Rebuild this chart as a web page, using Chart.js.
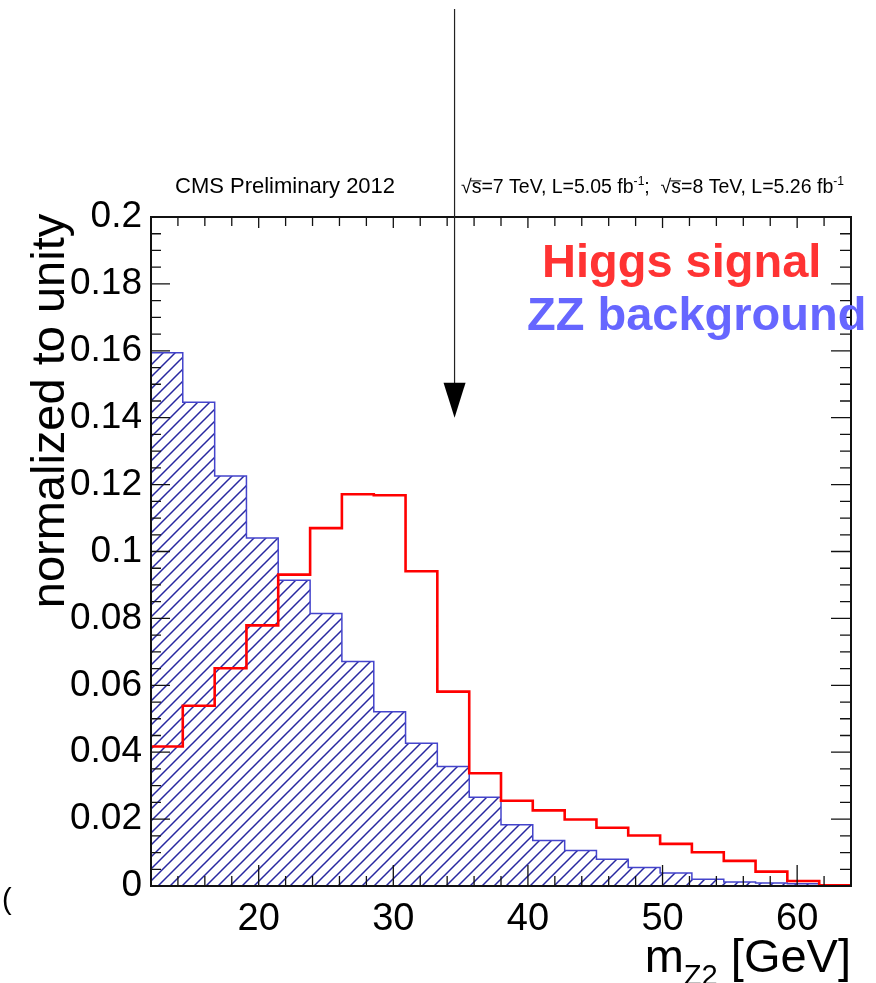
<!DOCTYPE html>
<html>
<head>
<meta charset="utf-8">
<title>mZ2 distribution</title>
<script src="https://cdn.jsdelivr.net/npm/chart.js@4.4.1/dist/chart.umd.min.js"></script>
<style>
  html, body { margin: 0; padding: 0; background: #fff; }
  canvas { display: block; }
</style>
</head>
<body>
<canvas id="mz2" width="876" height="983"></canvas>
<script>
// bin edges in GeV (22 bins from 12 to 64)
const binEdges = [12, 14.36, 16.73, 19.09, 21.45, 23.82, 26.18, 28.55, 30.91, 33.27, 35.64, 38,
  40.36, 42.73, 45.09, 47.45, 49.82, 52.18, 54.55, 56.91, 59.27, 61.64, 64];
const higgsSignal = [0.0417, 0.0539, 0.0651, 0.0779, 0.0931, 0.1070, 0.1171, 0.1168, 0.0941, 0.0581, 0.0337,
  0.0255, 0.0226, 0.0199, 0.0174, 0.0151, 0.0126, 0.0101, 0.0075, 0.0043, 0.0015, 0.0002];
const zzBackground = [0.1594, 0.1446, 0.1226, 0.1040, 0.0914, 0.0815, 0.0671, 0.0521, 0.0427, 0.0357, 0.0265,
  0.0183, 0.0136, 0.0106, 0.0080, 0.0055, 0.0039, 0.0020, 0.0012, 0.0009, 0.0007, 0.0002];
const xTicks = [20, 30, 40, 50, 60];
const yTicks = [0, 0.02, 0.04, 0.06, 0.08, 0.1, 0.12, 0.14, 0.16, 0.18, 0.2];
const arrowAt = { x: 34.55, y: 0.14 };

const FONT = "'Liberation Sans', Arial, Helvetica, sans-serif";

function toSteps(values) {
    const pts = values.map((v, i) => ({ x: binEdges[i], y: v }));
    pts.push({ x: binEdges[binEdges.length - 1], y: values[values.length - 1] });
    return pts;
}

function hatchPattern() {
    const s = 12;
    const c = document.createElement('canvas');
    c.width = s;
    c.height = s;
    const g = c.getContext('2d');
    g.strokeStyle = '#2828a0';
    g.lineWidth = 1.5;
    g.beginPath();
    g.moveTo(-1, s + 1); g.lineTo(s + 1, -1);
    g.moveTo(-1, 1); g.lineTo(1, -1);
    g.moveTo(s - 1, s + 1); g.lineTo(s + 1, s - 1);
    g.stroke();
    return g.createPattern(c, 'repeat');
}

// draws text pieces with sub/superscripts, returns width
function richText(ctx, x, y, parts, size, draw) {
    let cx = x;
    parts.forEach(p => {
        const sz = (p.sub || p.sup) ? size * 0.62 : size;
        ctx.font = sz + 'px ' + FONT;
        const dy = p.sub ? size * 0.28 : (p.sup ? -size * 0.42 : 0);
        const w = ctx.measureText(p.t).width;
        if (draw) {
            ctx.fillText(p.t, cx, y + dy);
            if (p.over) {
                ctx.beginPath();
                ctx.lineWidth = 1;
                ctx.moveTo(cx - 1, y - size * 0.62);
                ctx.lineTo(cx + w, y - size * 0.62);
                ctx.stroke();
            }
        }
        cx += w;
    });
    return cx - x;
}

const frameTicks = {
    id: 'frameTicks',
    afterDatasetsDraw(chart) {
        const { ctx, chartArea: a, scales: { x, y } } = chart;
        ctx.save();
        ctx.strokeStyle = '#111';
        ctx.lineWidth = 1.3;
        ctx.beginPath();
        for (let v = 14; v < 64; v += 2) {
            const px = x.getPixelForValue(v);
            const major = v % 10 === 0;
            ctx.moveTo(px, a.bottom); ctx.lineTo(px, a.bottom - (major ? 21 : 10));
            ctx.moveTo(px, a.top); ctx.lineTo(px, a.top + (major ? 11 : 9));
        }
        for (let i = 1; i < 40; i++) {
            const py = y.getPixelForValue(i * 0.005);
            const major = i % 4 === 0;
            ctx.moveTo(a.left, py); ctx.lineTo(a.left + (major ? 19 : 10), py);
            ctx.moveTo(a.right, py); ctx.lineTo(a.right - (major ? 20 : 11), py);
        }
        ctx.stroke();
        ctx.lineWidth = 2;
        ctx.strokeRect(a.left, a.top, a.width, a.height);
        ctx.restore();
    }
};

const decorations = {
    id: 'decorations',
    afterDraw(chart) {
        const { ctx, chartArea: a, scales: { x, y } } = chart;
        ctx.save();
        ctx.fillStyle = '#000';
        ctx.strokeStyle = '#000';
        ctx.textBaseline = 'alphabetic';

        // header
        ctx.font = '22px ' + FONT;
        ctx.fillText('CMS Preliminary 2012', 175, 193);
        richText(ctx, 461, 193, [
            { t: '\u221A' }, { t: 's', over: true }, { t: '=7 TeV, L=5.05 fb' }, { t: '-1', sup: true },
            { t: ';  ' },
            { t: '\u221A' }, { t: 's', over: true }, { t: '=8 TeV, L=5.26 fb' }, { t: '-1', sup: true }
        ], 19.5, true);

        // arrow
        const ax = x.getPixelForValue(arrowAt.x);
        const ay = y.getPixelForValue(arrowAt.y);
        ctx.lineWidth = 1.2;
        ctx.strokeStyle = '#222';
        ctx.beginPath();
        ctx.moveTo(ax, 9);
        ctx.lineTo(ax, ay - 30);
        ctx.stroke();
        ctx.beginPath();
        ctx.moveTo(ax - 11, ay - 35);
        ctx.lineTo(ax + 11, ay - 35);
        ctx.lineTo(ax, ay);
        ctx.closePath();
        ctx.fill();

        // legend
        ctx.font = 'bold 47px ' + FONT;
        ctx.fillStyle = '#ff3333';
        ctx.fillText('Higgs signal', 542, 277);
        ctx.fillStyle = '#6666ff';
        ctx.fillText('ZZ background', 527, 330);

        // axis titles
        ctx.fillStyle = '#000';
        const xt = [{ t: 'm' }, { t: 'Z2', sub: true }, { t: ' [GeV]' }];
        const w = richText(ctx, 0, 0, xt, 47, false);
        richText(ctx, a.right - w, 972, xt, 47, true);

        ctx.save();
        ctx.translate(64, 411);
        ctx.rotate(-Math.PI / 2);
        ctx.font = '47px ' + FONT;
        ctx.textAlign = 'center';
        ctx.fillText('normalized to unity', 0, 0);
        ctx.restore();

        ctx.font = '29px ' + FONT;
        ctx.fillText('(', 2, 909);
        ctx.restore();
    }
};

const ctx = document.getElementById('mz2').getContext('2d');

new Chart(ctx, {
    type: 'line',
    data: {
        datasets: [{
            label: 'Higgs signal',
            data: toSteps(higgsSignal),
            stepped: true,
            borderColor: '#ff0000',
            borderWidth: 2.6,
            pointRadius: 0,
            fill: false
        }, {
            label: 'ZZ background',
            data: toSteps(zzBackground),
            stepped: true,
            borderColor: '#4444cc',
            borderWidth: 1.5,
            backgroundColor: hatchPattern(),
            pointRadius: 0,
            fill: 'origin'
        }]
    },
    options: {
        responsive: false,
        animation: false,
        devicePixelRatio: 1,
        layout: { padding: { top: 217, right: 25, left: 0, bottom: 0 } },
        plugins: { legend: { display: false }, tooltip: { enabled: false } },
        scales: {
            x: {
                type: 'linear',
                min: 12,
                max: 64,
                grid: { display: false },
                border: { display: false },
                afterBuildTicks: axis => { axis.ticks = xTicks.map(v => ({ value: v })); },
                afterFit: axis => { axis.height = 97; },
                ticks: {
                    autoSkip: false,
                    maxRotation: 0,
                    padding: 3,
                    color: '#000',
                    font: { family: FONT, size: 38 }
                }
            },
            y: {
                min: 0,
                max: 0.2,
                grid: { display: false },
                border: { display: false },
                afterBuildTicks: axis => { axis.ticks = yTicks.map(v => ({ value: v })); },
                afterFit: axis => { axis.width = 151; },
                ticks: {
                    autoSkip: false,
                    padding: 1,
                    color: '#000',
                    font: { family: FONT, size: 37 },
                    callback: v => String(parseFloat(v.toFixed(2)))
                }
            }
        }
    },
    plugins: [frameTicks, decorations]
});
</script>
</body>
</html>
